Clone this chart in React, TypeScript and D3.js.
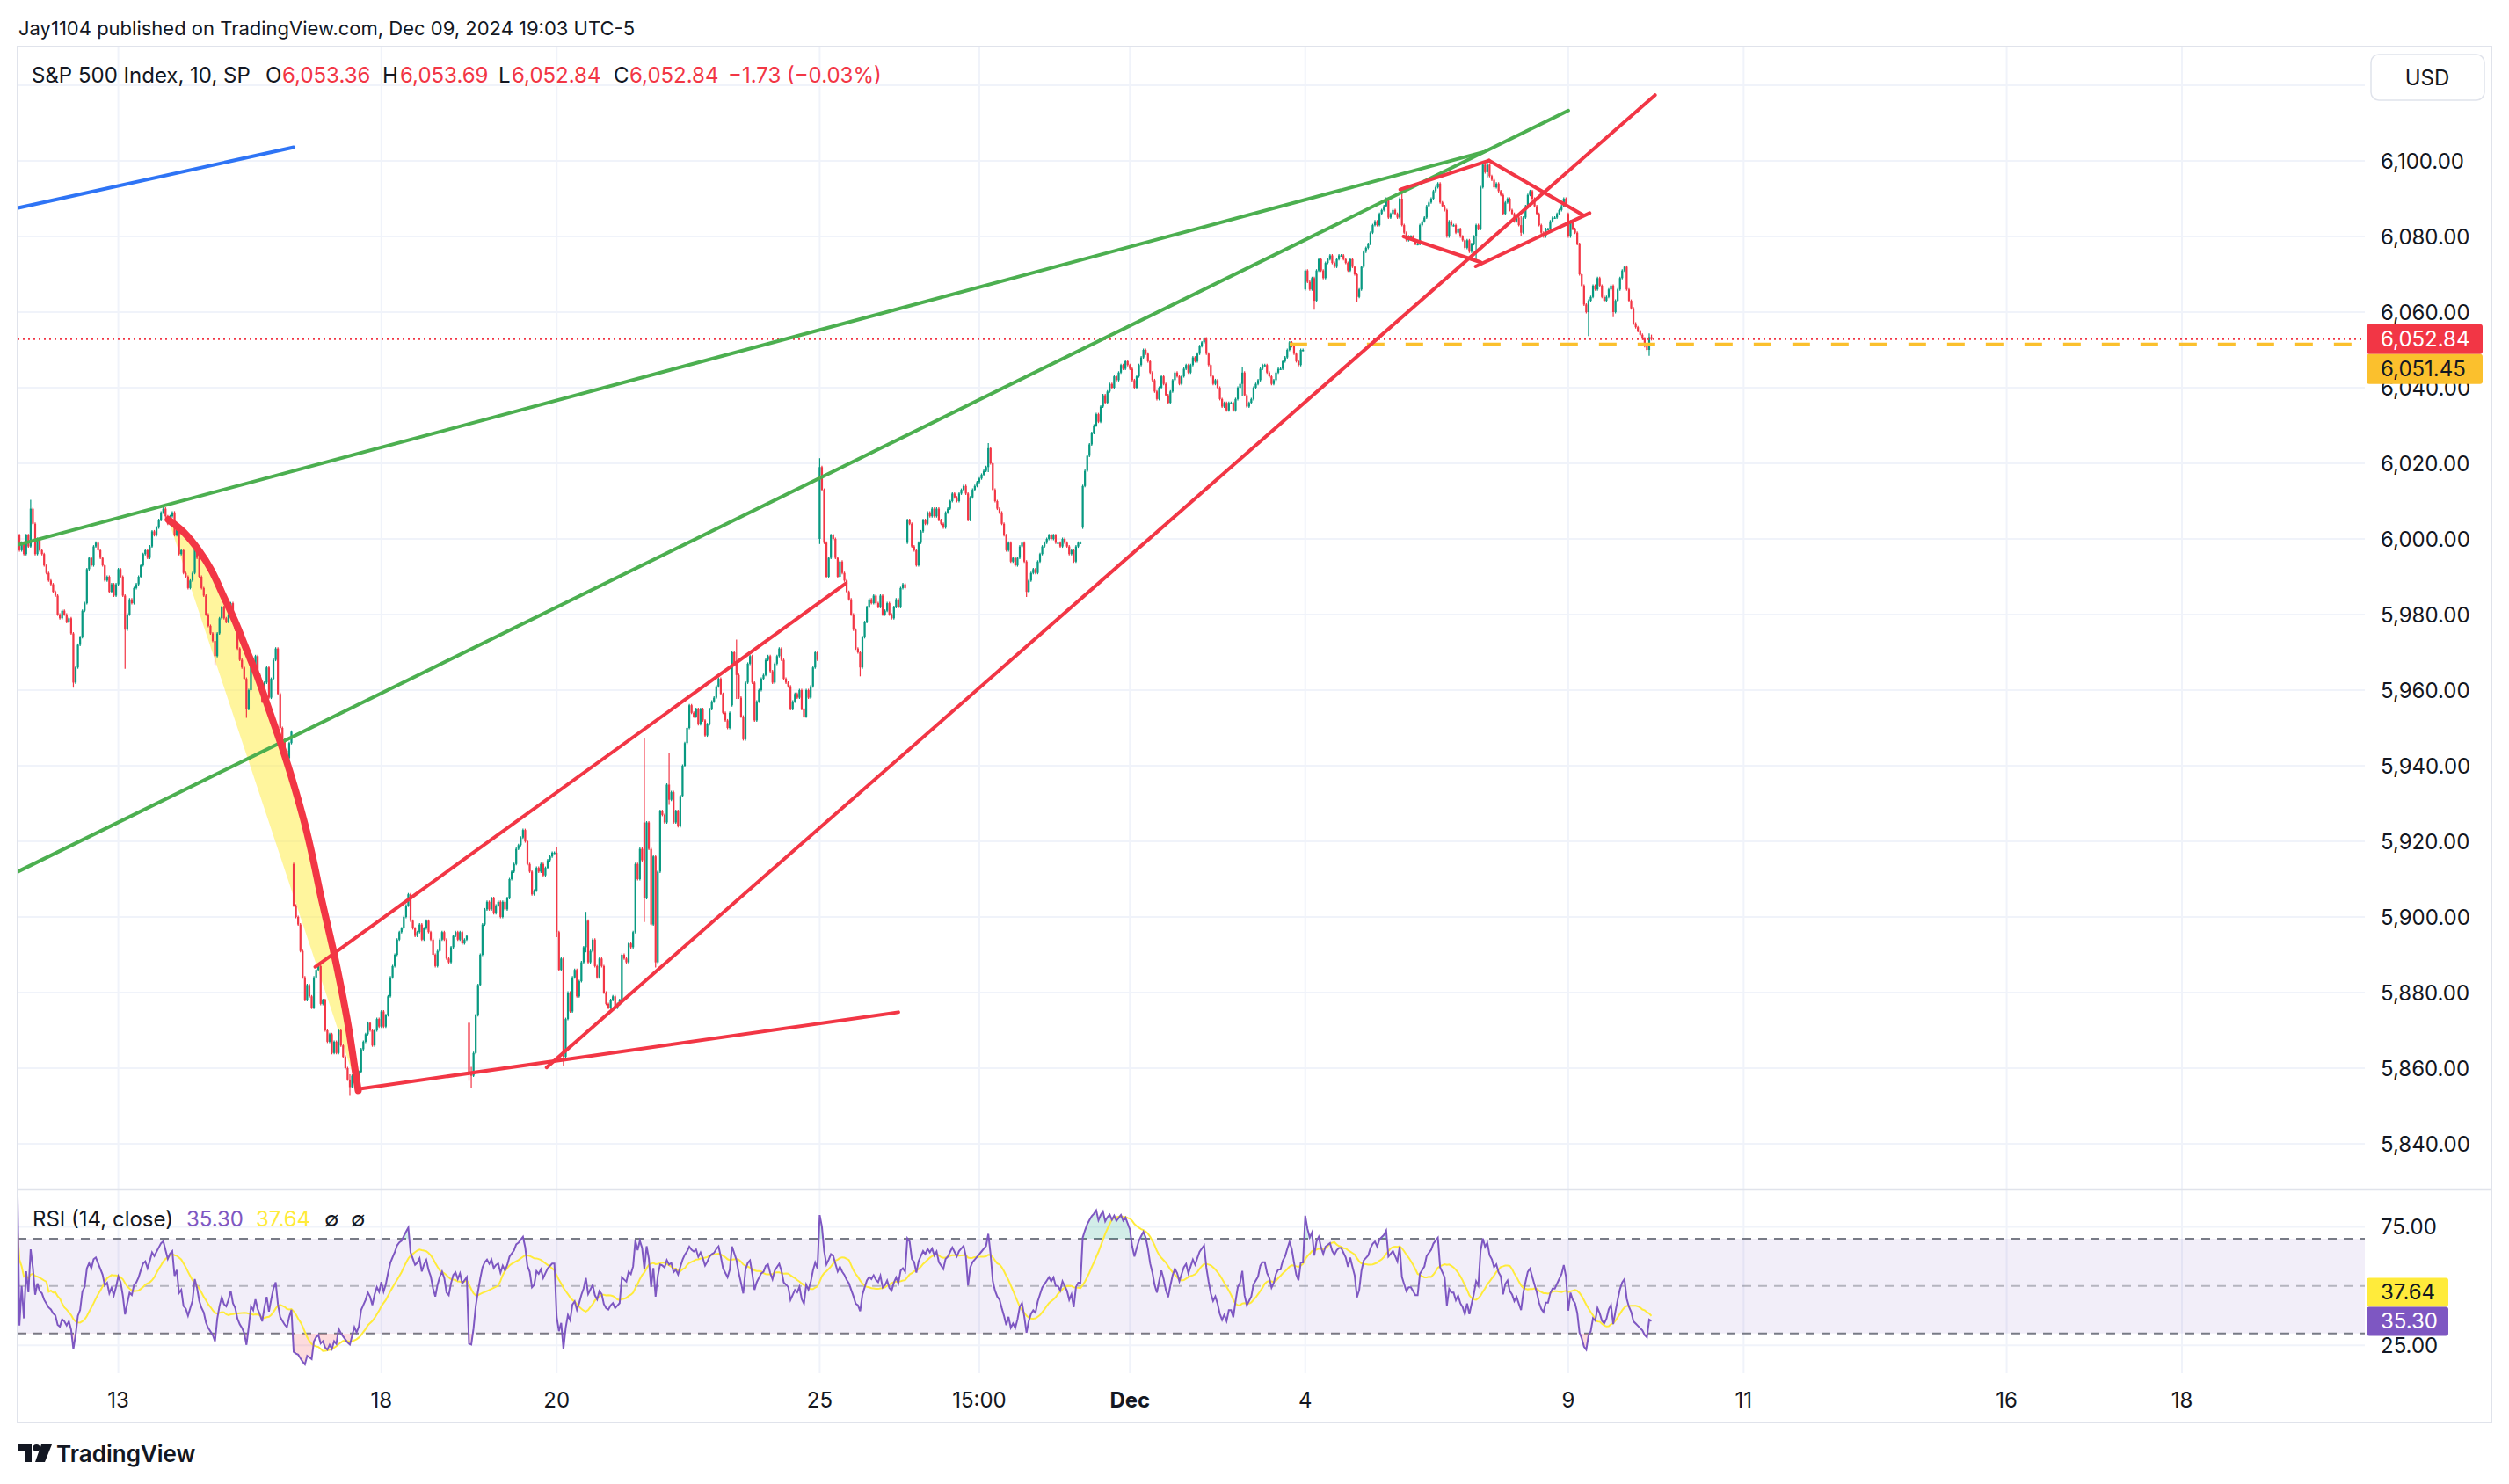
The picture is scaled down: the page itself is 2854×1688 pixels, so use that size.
import React from "react";
import * as d3 from "d3";

const W = 2854;
const H = 1688;
const FONT = "Inter, 'Noto Sans', 'DejaVu Sans', sans-serif";
const UP = "#089981";
const DOWN = "#F23645";
const TEXT = "#131722";

// ---------------- 10-minute closes, one array per session ----------------
const nov11 = [5999, 6001, 5997, 5999, 5996, 6001, 5998];
const nov12 = [6008, 6004, 5996, 6000, 5997, 5996, 5993, 5991, 5989, 5988, 5986, 5985, 5980, 5979, 5981, 5980, 5978, 5979, 5975, 5962, 5966, 5972, 5974, 5981, 5983, 5992, 5995, 5993, 5998, 5999, 5997, 5995, 5993, 5989, 5990, 5986, 5988, 5985, 5988];
const nov13 = [5992, 5990, 5985, 5976, 5980, 5984, 5983, 5987, 5988, 5990, 5993, 5996, 5997, 5995, 5998, 6002, 6001, 6003, 6005, 6007, 6008, 6006, 6004, 6006, 6007, 6001, 6003, 5996, 5997, 5991, 5990, 5987, 5989, 5991, 5998, 5995, 5990, 5987, 5985];
const nov14 = [5980, 5977, 5975, 5973, 5969, 5975, 5979, 5982, 5979, 5978, 5980, 5983, 5978, 5976, 5971, 5968, 5966, 5963, 5955, 5960, 5967, 5965, 5969, 5964, 5961, 5957, 5962, 5966, 5958, 5963, 5968, 5971, 5959, 5950, 5947, 5944, 5942, 5946, 5949];
const nov15 = [5903, 5900, 5898, 5891, 5884, 5878, 5882, 5879, 5876, 5884, 5886, 5887, 5877, 5878, 5870, 5867, 5869, 5864, 5867, 5864, 5870, 5866, 5863, 5860, 5857, 5855, 5858, 5861, 5857, 5859, 5865, 5867, 5869, 5872, 5870, 5866, 5870, 5873, 5871];
const nov18 = [5875, 5871, 5874, 5879, 5884, 5887, 5890, 5894, 5896, 5897, 5900, 5903, 5906, 5899, 5897, 5895, 5896, 5898, 5894, 5897, 5899, 5896, 5894, 5890, 5887, 5891, 5894, 5896, 5894, 5889, 5888, 5892, 5895, 5896, 5894, 5896, 5893, 5894, 5895];
const nov19 = [5859, 5858, 5864, 5874, 5882, 5890, 5898, 5902, 5904, 5902, 5905, 5901, 5903, 5904, 5900, 5904, 5902, 5905, 5910, 5912, 5914, 5918, 5919, 5921, 5923, 5920, 5914, 5912, 5906, 5907, 5913, 5912, 5914, 5911, 5913, 5915, 5916, 5917, 5917];
const nov20 = [5896, 5886, 5889, 5863, 5873, 5880, 5875, 5884, 5886, 5879, 5883, 5888, 5892, 5899, 5888, 5891, 5894, 5887, 5884, 5889, 5887, 5880, 5877, 5876, 5878, 5879, 5876, 5877, 5878, 5890, 5889, 5888, 5893, 5892, 5896, 5914, 5910, 5918, 5915];
const nov21 = [5905, 5925, 5918, 5898, 5916, 5888, 5912, 5928, 5927, 5925, 5935, 5931, 5933, 5925, 5928, 5924, 5932, 5940, 5946, 5950, 5956, 5954, 5953, 5955, 5951, 5955, 5952, 5948, 5951, 5955, 5957, 5958, 5961, 5963, 5959, 5954, 5952, 5950, 5954];
const nov22 = [5970, 5967, 5964, 5958, 5953, 5947, 5962, 5967, 5969, 5962, 5952, 5957, 5960, 5963, 5964, 5968, 5969, 5965, 5962, 5967, 5969, 5971, 5968, 5963, 5962, 5961, 5955, 5957, 5959, 5958, 5960, 5955, 5953, 5960, 5958, 5961, 5966, 5970, 5968];
const nov25 = [6019, 6013, 5999, 5990, 5995, 6001, 6000, 5995, 5990, 5994, 5991, 5989, 5986, 5984, 5980, 5976, 5971, 5970, 5966, 5974, 5978, 5982, 5984, 5983, 5985, 5983, 5982, 5985, 5980, 5981, 5983, 5980, 5979, 5982, 5984, 5982, 5987, 5988, 5987];
const nov26 = [6005, 6004, 5998, 5997, 5993, 5999, 6002, 6005, 6004, 6007, 6006, 6008, 6006, 6008, 6005, 6004, 6003, 6007, 6008, 6010, 6012, 6011, 6010, 6012, 6013, 6014, 6012, 6005, 6011, 6013, 6014, 6015, 6016, 6017, 6018, 6019, 6024, 6020, 6013];
const nov27 = [6010, 6008, 6007, 6004, 6001, 5997, 5999, 5994, 5995, 5993, 5995, 5998, 5999, 5994, 5986, 5989, 5991, 5992, 5991, 5994, 5996, 5998, 5999, 6000, 6001, 6000, 6001, 5999, 5999, 5998, 6000, 5999, 5998, 5996, 5997, 5994, 5998, 5999, 5999];
const nov29 = [6014, 6018, 6022, 6025, 6028, 6030, 6033, 6031, 6035, 6038, 6036, 6039, 6041, 6040, 6043, 6042, 6044, 6046, 6045, 6047, 6046];
const dec2 = [6045, 6042, 6040, 6043, 6046, 6048, 6050, 6049, 6047, 6044, 6042, 6039, 6037, 6040, 6043, 6041, 6038, 6036, 6039, 6042, 6044, 6043, 6041, 6043, 6045, 6046, 6044, 6046, 6048, 6047, 6049, 6051, 6052, 6053, 6049, 6046, 6043, 6041, 6042];
const dec3 = [6040, 6037, 6035, 6036, 6034, 6036, 6036, 6034, 6037, 6040, 6041, 6044, 6038, 6035, 6036, 6037, 6040, 6041, 6042, 6045, 6046, 6046, 6044, 6043, 6041, 6042, 6044, 6045, 6045, 6047, 6048, 6050, 6052, 6051, 6049, 6047, 6046, 6050, 6050];
const dec4 = [6071, 6068, 6066, 6069, 6063, 6071, 6074, 6071, 6069, 6073, 6074, 6075, 6073, 6072, 6074, 6075, 6075, 6074, 6073, 6071, 6074, 6072, 6070, 6064, 6066, 6072, 6076, 6077, 6078, 6081, 6083, 6084, 6083, 6086, 6087, 6088, 6090, 6085, 6086];
const dec5 = [6087, 6086, 6085, 6090, 6083, 6081, 6079, 6080, 6080, 6079, 6078, 6078, 6083, 6084, 6085, 6088, 6089, 6090, 6092, 6093, 6094, 6089, 6088, 6087, 6080, 6084, 6083, 6083, 6081, 6082, 6080, 6079, 6077, 6079, 6076, 6078, 6080, 6083, 6082];
const dec6 = [6093, 6099, 6097, 6099, 6096, 6095, 6093, 6094, 6092, 6091, 6086, 6089, 6090, 6087, 6086, 6084, 6085, 6083, 6081, 6085, 6088, 6091, 6092, 6090, 6088, 6086, 6083, 6081, 6080, 6082, 6082, 6084, 6085, 6085, 6086, 6087, 6088, 6090, 6088];
const dec9 = [6080, 6084, 6082, 6081, 6078, 6070, 6067, 6062, 6060, 6063, 6064, 6067, 6066, 6069, 6067, 6064, 6063, 6064, 6066, 6067, 6060, 6063, 6066, 6069, 6071, 6072, 6066, 6063, 6061, 6057, 6056, 6055, 6054, 6053, 6051, 6050, 6053.36, 6052.84];

const closes = [
  ...nov11, ...nov12, ...nov13, ...nov14, ...nov15, ...nov18, ...nov19, ...nov20, ...nov21,
  ...nov22, ...nov25, ...nov26, ...nov27, ...nov29, ...dec2, ...dec3, ...dec4, ...dec5, ...dec6, ...dec9,
];

// session opens that gap away from the previous close: [bar, open]
const gapOpens: [number, number][] = [
  [0, 5999], [124, 5914], [202, 5872], [280, 5925], [319, 5956], [358, 6000], [397, 5999],
  [475, 6003], [574, 6066], [652, 6082], [691, 6086], [728, 6053.36],
];
// visible wick extremes: [bar, high, low]
const wickExtremes: [number, number, number][] = [
  [7, 6010, 6000], [26, 5975, 5961], [49, 5985, 5966], [89, 5975, 5967], [103, 5963, 5953],
  [149, 5858, 5853], [202, 5872, 5857], [203, 5860, 5855], [241, 5918, 5895], [244, 5889, 5861],
  [254, 5901, 5891], [280, 5947, 5899], [285, 5916, 5887], [291, 5943, 5930], [321, 5973, 5958],
  [324, 5953, 5947], [358, 6021, 5999], [376, 5970, 5964], [433, 6025, 6018], [450, 5994, 5985],
  [546, 6045, 6038], [578, 6069, 6061], [597, 6070, 6063], [611, 6090, 6085], [617, 6092, 6083],
  [647, 6079, 6076], [650, 6083, 6074], [655, 6100, 6096], [670, 6085, 6080.5], [700, 6063, 6054],
  [711, 6067, 6059], [727, 6054, 6048.8], [728, 6053.69, 6052.84],
];

// values printed in the legends / axis readouts
const legendChange = "−1.73 (−0.03%)";
const rsiReadout = 35.3;
const rsiMaReadout = 37.64;

const priceTicks = [5840, 5860, 5880, 5900, 5920, 5940, 5960, 5980, 6000, 6020, 6040, 6060, 6080, 6100];
const priceGrid = [...priceTicks, 6120];
const timeTicks = [
  { label: "13", bar: 46, bold: false },
  { label: "18", bar: 163, bold: false },
  { label: "20", bar: 241, bold: false },
  { label: "25", bar: 358, bold: false },
  { label: "15:00", bar: 429, bold: false },
  { label: "Dec", bar: 496, bold: true },
  { label: "4", bar: 574, bold: false },
  { label: "9", bar: 691, bold: false },
  { label: "11", bar: 769, bold: false },
  { label: "16", bar: 886, bold: false },
  { label: "18", bar: 964, bold: false },
];
const rsiTickLabels = [75, 25];
const lastClose = 6052.84;
const hLineLevel = 6051.45;
const hLineStartBar = 567;

// ---------------- user drawings: [bar, price] ----------------
const blueLine: [number, number][] = [[1, 6087.5], [124, 6103.6]];
const greenUpper: [number, number][] = [[1, 5998.4], [653, 6102.3]];
const greenLower: [number, number][] = [[1, 5911.9], [691, 6113.3]];
const redSupport: [number, number][] = [[152.7, 5854.5], [393, 5874.8]];
const redChannelUpper: [number, number][] = [[133.6, 5886.8], [369.6, 5988.2]];
const redChannelLower: [number, number][] = [[236.5, 5860.2], [729.6, 6117.4]];
const curveBars = [68.2, 75.2, 82.1, 87.4, 92.6, 97.8, 103.1, 108.3, 113.5, 118.7, 124.0, 129.2, 132.7, 136.2, 141.4, 144.9, 148.4, 151.0, 152.7];
const curvePrices = [6005.1, 6001.7, 5996.7, 5991.7, 5985.1, 5978.4, 5970.6, 5962.9, 5954.0, 5945.1, 5935.1, 5924.0, 5915.1, 5905.2, 5891.8, 5881.9, 5870.8, 5860.8, 5854.1];
const diamond: [number, number][][] = [
  [[616.2, 6092.4], [655.7, 6100.1]],
  [[655.7, 6100.1], [697.8, 6085.6]],
  [[617.7, 6080.0], [652.0, 6073.2]],
  [[649.8, 6072.1], [700.5, 6086.2]],
];

// ---------------- indicators ----------------
function computeRsi(src: number[], n: number): number[] {
  const out: number[] = [50];
  let ag = 0;
  let al = 0;
  for (let i = 1; i < src.length; i++) {
    const d = src[i] - src[i - 1];
    const g = Math.max(d, 0);
    const l = Math.max(-d, 0);
    if (i <= n) {
      ag += g / n;
      al += l / n;
    } else {
      ag = (ag * (n - 1) + g) / n;
      al = (al * (n - 1) + l) / n;
    }
    out.push(al === 0 ? 100 : 100 - 100 / (1 + ag / al));
  }
  return out;
}
function sma(src: number[], n: number): number[] {
  return src.map((_, i) => d3.mean(src.slice(Math.max(0, i - n + 1), i + 1)) as number);
}

export default function App() {
  // layout
  const L = 20, R = 2690, FR = 2834, T = 53, SEP = 1353, RB = 1562, B = 1618;

  const x = d3.scaleLinear().domain([46, 964]).range([134.6, 2482]);
  const y = d3.scaleLinear().domain([5840, 6100]).range([1301, 183]);
  const yr = d3.scaleLinear().domain([30, 70]).range([1516.7, 1409]);

  const openMap = new Map(gapOpens);
  const wickMap = new Map(wickExtremes.map((w) => [w[0], [w[1], w[2]]]));
  const candles = closes.map((c, i) => {
    const o = openMap.has(i) ? (openMap.get(i) as number) : closes[i - 1];
    const w = wickMap.get(i);
    const h = Math.max(o, c, w ? w[0] : -Infinity);
    const l = Math.min(o, c, w ? w[1] : Infinity);
    return { i, o, h, l, c };
  });
  const last = candles[candles.length - 1];

  const rsi = computeRsi(closes, 14);
  const rsiMa = sma(rsi, 14);

  const seg = (pts: [number, number][]) =>
    d3.line<[number, number]>().x((d) => x(d[0])).y((d) => y(d[1]))(pts) as string;

  const curvePts: [number, number][] = curveBars.map((b, k) => [b, curvePrices[k]]);
  const curvePath = d3
    .line<[number, number]>()
    .x((d) => x(d[0]))
    .y((d) => y(d[1]))
    .curve(d3.curveCatmullRom.alpha(0.5))(curvePts) as string;

  const rsiLine = d3.line<number>().x((_, i) => x(i)).y((v) => yr(v))(rsi) as string;
  const maLine = d3.line<number>().x((_, i) => x(i)).y((v) => yr(v))(rsiMa) as string;
  const obArea = d3.area<number>().x((_, i) => x(i)).y0(yr(70)).y1((v) => yr(v))(rsi) as string;
  const osArea = d3.area<number>().x((_, i) => x(i)).y0(yr(30)).y1((v) => yr(v))(rsi) as string;

  const fmt = d3.format(",.2f");
  const yLast = y(lastClose);
  const yRsiLbl = yr(rsiReadout);

  const lbl = { fontFamily: FONT, fontSize: 24, fill: TEXT, dominantBaseline: "central" as const };

  return (
    <svg
      width={W}
      height={H}
      viewBox={`0 0 ${W} ${H}`}
      style={{ position: "absolute", left: 0, top: 0, background: "#fff" }}
    >
      <defs>
        <clipPath id="pricePane">
          <rect x={L} y={T} width={R - L} height={SEP - T} />
        </clipPath>
        <clipPath id="rsiPane">
          <rect x={L} y={SEP} width={R - L} height={RB - SEP} />
        </clipPath>
        <clipPath id="obClip">
          <rect x={L} y={SEP} width={R - L} height={yr(70) - SEP} />
        </clipPath>
        <clipPath id="osClip">
          <rect x={L} y={yr(30)} width={R - L} height={RB - yr(30)} />
        </clipPath>
      </defs>
      <rect x={0} y={0} width={W} height={H} fill="#ffffff" />

      {/* header */}
      <text {...lbl} fontSize={22} x={21} y={32}>
        Jay1104 published on TradingView.com, Dec 09, 2024 19:03 UTC-5
      </text>

      {/* grid */}
      <g stroke="#F0F3FA" strokeWidth={2}>
        {priceGrid.map((p) => (
          <line key={"hg" + p} x1={L} x2={R} y1={y(p)} y2={y(p)} clipPath="url(#pricePane)" />
        ))}
        {timeTicks.map((t) => (
          <line key={"vg" + t.label + t.bar} x1={x(t.bar)} x2={x(t.bar)} y1={T} y2={RB} />
        ))}
        {rsiTickLabels.map((v) => (
          <line key={"rg" + v} x1={L} x2={R} y1={yr(v)} y2={yr(v)} />
        ))}
      </g>

      {/* price pane */}
      <g clipPath="url(#pricePane)">
        {/* yellow highlight between arc and chord */}
        <path d={curvePath + "Z"} fill="rgba(255, 235, 59, 0.5)" stroke="none" />

        {/* candles */}
        {candles.map((d) => {
          const col = d.c >= d.o ? UP : DOWN;
          const top = y(Math.max(d.o, d.c));
          const bot = y(Math.min(d.o, d.c));
          return (
            <g key={d.i}>
              <line x1={x(d.i)} x2={x(d.i)} y1={y(d.h) - 1.5} y2={y(d.l) + 1.5} stroke={col} strokeWidth={1.2} />
              <rect x={x(d.i) - 1.1} y={top} width={2.2} height={Math.max(bot - top, 1.5)} fill={col} />
            </g>
          );
        })}

        {/* last price & horizontal line */}
        <line x1={L} x2={R} y1={yLast} y2={yLast} stroke={DOWN} strokeWidth={2} strokeDasharray="2,4" />
        <line
          x1={x(hLineStartBar)}
          x2={R}
          y1={y(hLineLevel)}
          y2={y(hLineLevel)}
          stroke="#FBC02D"
          strokeWidth={4}
          strokeDasharray="20,24"
        />

        {/* drawings */}
        <g fill="none" strokeLinecap="round">
          <path d={seg(blueLine)} stroke="#2E74F5" strokeWidth={4} />
          <path d={seg(greenUpper)} stroke="#4CAF50" strokeWidth={4} />
          <path d={seg(greenLower)} stroke="#4CAF50" strokeWidth={4} />
          <path d={seg(redSupport)} stroke={DOWN} strokeWidth={4} />
          <path d={seg(redChannelUpper)} stroke={DOWN} strokeWidth={4} />
          <path d={seg(redChannelLower)} stroke={DOWN} strokeWidth={4} />
          {diamond.map((s, k) => (
            <path key={"dm" + k} d={seg(s)} stroke={DOWN} strokeWidth={4} />
          ))}
          <path d={curvePath} stroke={DOWN} strokeWidth={8} />
        </g>
      </g>

      {/* legend */}
      <text {...lbl} y={85}>
        <tspan x={36}>S&amp;P 500 Index, 10, SP</tspan>
        <tspan x={302}>O</tspan>
        <tspan x={321} fill={DOWN}>{fmt(last.o)}</tspan>
        <tspan x={435}>H</tspan>
        <tspan x={455} fill={DOWN}>{fmt(last.h)}</tspan>
        <tspan x={567}>L</tspan>
        <tspan x={582} fill={DOWN}>{fmt(last.l)}</tspan>
        <tspan x={698}>C</tspan>
        <tspan x={716} fill={DOWN}>{fmt(last.c)}</tspan>
        <tspan x={828} fill={DOWN}>{legendChange}</tspan>
      </text>

      {/* RSI pane */}
      <rect x={L} y={yr(70)} width={R - L} height={yr(30) - yr(70)} fill="rgba(126, 87, 194, 0.1)" />
      <g strokeWidth={2} fill="none">
        <line x1={L} x2={R} y1={yr(70)} y2={yr(70)} stroke="#787B86" strokeDasharray="10,8" />
        <line x1={L} x2={R} y1={yr(30)} y2={yr(30)} stroke="#787B86" strokeDasharray="10,8" />
        <line x1={L} x2={R} y1={yr(50)} y2={yr(50)} stroke="rgba(120,123,134,0.5)" strokeDasharray="10,8" />
      </g>
      <g clipPath="url(#rsiPane)">
        <path d={obArea} fill="rgba(8, 153, 129, 0.18)" clipPath="url(#obClip)" />
        <path d={osArea} fill="rgba(242, 54, 69, 0.18)" clipPath="url(#osClip)" />
        <path d={maLine} fill="none" stroke="#FFEB3B" strokeWidth={2} />
        <path d={rsiLine} fill="none" stroke="#7E57C2" strokeWidth={2} />
      </g>
      <text {...lbl} y={1386}>
        <tspan x={37}>RSI (14, close)</tspan>
        <tspan x={212} fill="#7E57C2">{rsiReadout.toFixed(2)}</tspan>
        <tspan x={291} fill="#FFEB3B">{rsiMaReadout.toFixed(2)}</tspan>
        <tspan x={369}>∅</tspan>
        <tspan x={399}>∅</tspan>
      </text>

      {/* frame & separators */}
      <line x1={L} x2={FR} y1={SEP} y2={SEP} stroke="#E0E3EB" strokeWidth={2.5} />
      <rect x={L} y={T} width={FR - L} height={B - T} fill="none" stroke="#E0E3EB" strokeWidth={2} />

      {/* price axis */}
      <rect x={2697} y={62} width={129} height={52} rx={9} fill="#fff" stroke="#E0E3EB" strokeWidth={1.5} />
      <text {...lbl} x={2761} y={88} textAnchor="middle">USD</text>
      {priceTicks.map((p) => (
        <text key={"pt" + p} {...lbl} x={2708} y={y(p)}>
          {fmt(p)}
        </text>
      ))}
      <rect x={2692} y={yLast - 17} width={132} height={34} rx={3} fill={DOWN} />
      <text {...lbl} x={2708} y={yLast} fill="#fff">{fmt(lastClose)}</text>
      <rect x={2692} y={yLast + 17} width={132} height={34} rx={3} fill="#FBC02D" />
      <text {...lbl} x={2708} y={yLast + 34}>{fmt(hLineLevel)}</text>

      {/* RSI axis */}
      {rsiTickLabels.map((v) => (
        <text key={"rt" + v} {...lbl} x={2708} y={yr(v)}>
          {v.toFixed(2)}
        </text>
      ))}
      <rect x={2692} y={yRsiLbl - 49} width={93} height={33} rx={3} fill="#FFEB3B" />
      <text {...lbl} x={2708} y={yRsiLbl - 32.5}>{rsiMaReadout.toFixed(2)}</text>
      <rect x={2692} y={yRsiLbl - 16} width={93} height={33} rx={3} fill="#7E57C2" />
      <text {...lbl} x={2708} y={yRsiLbl + 0.5} fill="#fff">{rsiReadout.toFixed(2)}</text>

      {/* time axis */}
      {timeTicks.map((t) => (
        <text
          key={"tl" + t.label + t.bar}
          {...lbl}
          x={x(t.bar)}
          y={1592}
          textAnchor="middle"
          fontWeight={t.bold ? 700 : 400}
        >
          {t.label}
        </text>
      ))}

      {/* logo */}
      <g fill={TEXT}>
        <path d="M20 1643 H36 V1663 H28 V1650 H20 Z" />
        <circle cx={41.5} cy={1647} r={4} />
        <path d="M47 1643 H59 L51 1663 H40 Z" />
      </g>
      <text {...lbl} x={64} y={1653} fontSize={26} fontWeight={600}>TradingView</text>
    </svg>
  );
}
